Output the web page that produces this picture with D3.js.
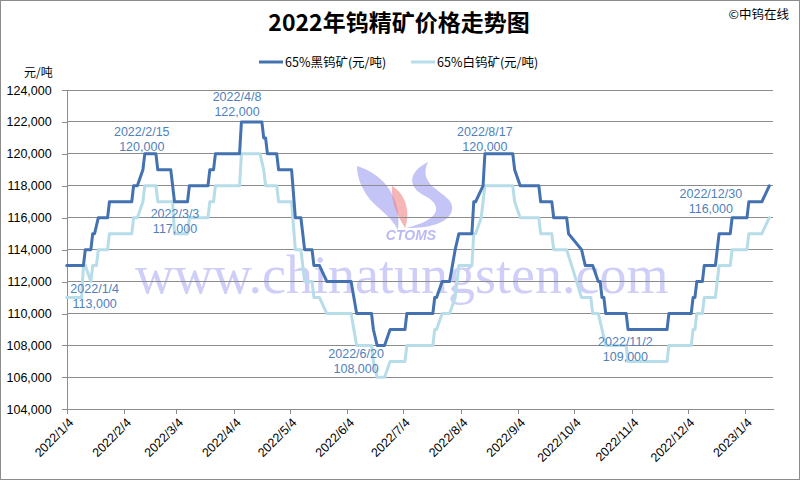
<!DOCTYPE html>
<html>
<head>
<meta charset="utf-8">
<script src="https://cdn.jsdelivr.net/npm/d3@7"></script>
<style>
html,body{margin:0;padding:0;background:#fff;}
svg{display:block;}
</style>
</head>
<body>
<svg id="chart" width="800" height="480"></svg>
<script>
// ---------------- DATA ----------------
const chartTitle = "2022年钨精矿价格走势图";
const sourceText = "©中钨在线";
const unitText = "元/吨";
const seriesNames = ["65%黑钨矿(元/吨)", "65%白钨矿(元/吨)"];

const blackDates = ["2022-01-04","2022-01-13","2022-01-14","2022-01-17","2022-01-18","2022-01-19","2022-01-21","2022-01-26","2022-01-27","2022-02-08","2022-02-09","2022-02-11","2022-02-14","2022-02-15","2022-02-21","2022-02-22","2022-03-01","2022-03-03","2022-03-10","2022-03-11","2022-03-21","2022-03-22","2022-03-24","2022-03-25","2022-04-07","2022-04-08","2022-04-19","2022-04-20","2022-04-21","2022-04-22","2022-04-27","2022-04-28","2022-05-05","2022-05-07","2022-05-10","2022-05-12","2022-05-16","2022-05-17","2022-05-20","2022-05-24","2022-06-06","2022-06-09","2022-06-17","2022-06-18","2022-06-20","2022-06-24","2022-06-27","2022-07-05","2022-07-06","2022-07-20","2022-07-21","2022-07-22","2022-07-25","2022-07-29","2022-08-01","2022-08-03","2022-08-10","2022-08-11","2022-08-12","2022-08-16","2022-08-17","2022-09-01","2022-09-02","2022-09-05","2022-09-15","2022-09-16","2022-09-22","2022-09-23","2022-09-30","2022-10-01","2022-10-08","2022-10-10","2022-10-14","2022-10-17","2022-10-18","2022-10-19","2022-10-20","2022-10-21","2022-11-01","2022-11-02","2022-11-23","2022-11-24","2022-12-06","2022-12-07","2022-12-08","2022-12-09","2022-12-12","2022-12-13","2022-12-19","2022-12-21","2022-12-27","2022-12-28","2023-01-05","2023-01-06","2023-01-13","2023-01-17"];
const blackValues = [113000,113000,114000,114000,115000,115000,116000,116000,117000,117000,118000,118000,119000,120000,120000,119000,119000,117000,117000,118000,118000,119000,119000,120000,120000,122000,122000,121000,121000,120000,120000,119000,119000,116000,116000,114000,114000,113000,113000,112000,112000,110000,110000,109000,108000,108000,109000,109000,110000,110000,111000,111000,112000,112000,114000,115000,115000,117000,117000,118000,120000,120000,119000,118000,118000,117000,117000,116000,116000,115000,114000,113000,113000,112000,112000,111000,111000,110000,110000,109000,109000,110000,110000,111000,111000,112000,112000,113000,113000,115000,115000,116000,116000,117000,117000,118000];

const whiteDates = ["2022-01-04","2022-01-12","2022-01-13","2022-01-14","2022-01-17","2022-01-18","2022-01-20","2022-01-21","2022-01-26","2022-01-27","2022-02-08","2022-02-09","2022-02-11","2022-02-14","2022-02-15","2022-02-21","2022-02-22","2022-03-02","2022-03-03","2022-03-10","2022-03-11","2022-03-21","2022-03-22","2022-03-24","2022-03-25","2022-04-07","2022-04-08","2022-04-18","2022-04-20","2022-04-21","2022-04-27","2022-04-28","2022-05-05","2022-05-07","2022-05-10","2022-05-12","2022-05-16","2022-05-17","2022-05-20","2022-05-24","2022-06-06","2022-06-09","2022-06-17","2022-06-18","2022-06-20","2022-06-24","2022-06-27","2022-07-05","2022-07-06","2022-07-20","2022-07-21","2022-07-22","2022-07-25","2022-07-29","2022-08-01","2022-08-03","2022-08-10","2022-08-11","2022-08-12","2022-08-15","2022-08-17","2022-09-01","2022-09-02","2022-09-05","2022-09-15","2022-09-16","2022-09-22","2022-09-23","2022-09-30","2022-10-08","2022-10-13","2022-10-14","2022-10-17","2022-10-21","2022-11-01","2022-11-02","2022-11-23","2022-11-24","2022-12-06","2022-12-07","2022-12-08","2022-12-09","2022-12-12","2022-12-13","2022-12-19","2022-12-21","2022-12-27","2022-12-28","2023-01-05","2023-01-06","2023-01-13","2023-01-17"];
const whiteValues = [111000,111000,113000,113000,112000,113000,113000,114000,114000,115000,115000,116000,116000,117000,118000,118000,117000,117000,115000,115000,116000,116000,117000,117000,118000,118000,120000,120000,119000,118000,118000,117000,117000,114000,114000,112000,112000,111000,111000,110000,110000,108000,108000,107000,106000,106000,107000,107000,108000,108000,109000,109000,110000,110000,111000,113000,113000,115000,115000,116000,118000,118000,117000,116000,116000,115000,115000,114000,114000,111000,111000,110000,110000,108000,108000,107000,107000,108000,108000,109000,109000,110000,110000,111000,111000,113000,113000,114000,114000,115000,115000,116000];

const xTickLabels = ["2022/1/4","2022/2/4","2022/3/4","2022/4/4","2022/5/4","2022/6/4","2022/7/4","2022/8/4","2022/9/4","2022/10/4","2022/11/4","2022/12/4","2023/1/4"];
const yTicks = [104000,106000,108000,110000,112000,114000,116000,118000,120000,122000,124000];
const xDomain = ["2022-01-04","2023-01-19"];

const noteDates  = ["2022-01-04","2022-02-15","2022-03-03","2022-04-08","2022-06-20","2022-08-17","2022-11-02","2022-12-30"];
const noteValues = [113000,120000,117000,122000,108000,120000,109000,116000];

// ---------------- LAYOUT ----------------
const parse = d3.timeParse("%Y-%m-%d");
const parseTick = d3.timeParse("%Y/%m/%d");
const plot = {left: 66.7, right: 773, top: 90, bottom: 409.3};

const svg = d3.select("#chart");
const x = d3.scaleTime().domain(xDomain.map(parse)).range([plot.left, plot.right]);
const y = d3.scaleLinear().domain([104000, 124000]).range([plot.bottom, plot.top]);

const numFont = "'Liberation Sans', Arial, 'Noto Sans CJK SC', sans-serif";
const cjkFont = "'Noto Sans CJK SC', 'Liberation Sans', sans-serif";
const gridColor = "#8c8c8c";
const darkColor = "#4472b0";
const lightColor = "#b7dde8";
const noteColor = "#4f7fbd";

const defs = svg.append("defs");
defs.append("filter").attr("id","soft").append("feGaussianBlur").attr("stdDeviation",0.7);

// background + border
svg.append("rect").attr("x",0.5).attr("y",0.5).attr("width",799).attr("height",479)
  .attr("fill","#fff").attr("stroke","#8c8c8c").attr("stroke-width",1);

// watermark (behind)
const wm = svg.append("g").attr("class","watermark").attr("filter","url(#soft)");
wm.append("text").attr("x",135).attr("y",293)
  .attr("font-family","'Liberation Serif','DejaVu Serif',serif").attr("font-size",54)
  .attr("fill","#8484ee").attr("fill-opacity",0.4).text("www.chinatungsten.com");
wm.append("path").attr("d","M357,166 C384,174 402,198 398,230 C390,214 373,206 366,194 C360,184 357,176 357,166 Z")
  .attr("fill","#8a8aee").attr("fill-opacity",0.5);
wm.append("path").attr("d","M392,186 C405,193 411,212 405,228 C398,216 391,204 392,186 Z")
  .attr("fill","#f07a7a").attr("fill-opacity",0.55);
wm.append("path").attr("d","M428,162 C408,172 407,187 425,196 C441,204 444,219 406,228 C446,229 459,212 449,200 C440,190 418,183 428,162 Z")
  .attr("fill","#8a8aee").attr("fill-opacity",0.5);
wm.append("text").attr("x",411).attr("y",240).attr("text-anchor","middle")
  .attr("font-family","'Liberation Sans',Arial,sans-serif").attr("font-size",14).attr("font-weight","bold")
  .attr("font-style","italic").attr("fill","#8a8aee").attr("fill-opacity",0.6).text("CTOMS");

// gridlines
svg.append("g").selectAll("line").data(yTicks).join("line")
  .attr("x1",plot.left).attr("x2",plot.right)
  .attr("y1",d=>y(d)).attr("y2",d=>y(d))
  .attr("stroke",gridColor).attr("stroke-width",1).attr("shape-rendering","crispEdges");

// y axis
const yAxis = svg.append("g").attr("transform",`translate(${plot.left},0)`)
  .call(d3.axisLeft(y).tickValues(yTicks).tickFormat(d3.format(",")).tickSize(5).tickPadding(10));
yAxis.select(".domain").attr("stroke",gridColor).attr("shape-rendering","crispEdges");
yAxis.selectAll(".tick line").attr("stroke",gridColor).attr("shape-rendering","crispEdges");
yAxis.selectAll("text").attr("font-family",numFont).attr("font-size",12.5).attr("fill","#000");

// x axis
const xTickDates = xTickLabels.map(parseTick);
const xAxis = svg.append("g").attr("transform",`translate(0,${plot.bottom})`)
  .call(d3.axisBottom(x).tickValues(xTickDates).tickFormat((d,i)=>xTickLabels[i]).tickSize(5).tickSizeOuter(0));
xAxis.select(".domain").attr("stroke",gridColor).attr("shape-rendering","crispEdges");
xAxis.selectAll(".tick line").attr("stroke",gridColor).attr("shape-rendering","crispEdges");
xAxis.selectAll("text")
  .attr("font-family",numFont).attr("font-size",12.5).attr("fill","#000")
  .attr("text-anchor","end").attr("dy","0.35em").attr("y",0)
  .attr("transform","translate(4,11) rotate(-45)");

// lines
const line = d3.line().x(d=>x(d.date)).y(d=>y(d.value));
const lightData = whiteDates.map((d,i)=>({date:parse(d), value:whiteValues[i]}));
const darkData = blackDates.map((d,i)=>({date:parse(d), value:blackValues[i]}));
svg.append("path").datum(lightData).attr("d",line).attr("fill","none")
  .attr("stroke",lightColor).attr("stroke-width",3).attr("stroke-linejoin","round").attr("stroke-linecap","round");
svg.append("path").datum(darkData).attr("d",line).attr("fill","none")
  .attr("stroke",darkColor).attr("stroke-width",3).attr("stroke-linejoin","round").attr("stroke-linecap","round");

// annotations (offset of the label's first baseline from its data point)
const noteOffsets = [[28,27],[-3,-18],[0.5,16],[-4.4,-21],[-21,12.4],[0,-18],[-2.6,16.6],[-25,-19.6]];
const notes = svg.append("g");
noteDates.forEach((d,i)=>{
  const px = x(parse(d)) + noteOffsets[i][0];
  const py = y(noteValues[i]) + noteOffsets[i][1];
  const [yy,mm,dd] = d.split("-").map(Number);
  const t = notes.append("text").attr("text-anchor","middle")
    .attr("font-family",numFont).attr("font-size",12.5).attr("fill",noteColor);
  t.append("tspan").attr("x",px).attr("y",py).text(`${yy}/${mm}/${dd}`);
  t.append("tspan").attr("x",px).attr("y",py+15).text(d3.format(",")(noteValues[i]));
});

// title
svg.append("text").attr("x",399).attr("y",31).attr("text-anchor","middle")
  .attr("font-family",cjkFont).attr("font-size",23).attr("font-weight","bold").attr("fill","#000")
  .text(chartTitle);
svg.append("text").attr("x",789).attr("y",19).attr("text-anchor","end")
  .attr("font-family",cjkFont).attr("font-size",12.5).attr("fill","#000").text(sourceText);
svg.append("text").attr("x",24).attr("y",77)
  .attr("font-family",cjkFont).attr("font-size",12).attr("fill","#000").text(unitText);

// legend
const legendX = [259, 411];
const legendColors = [darkColor, lightColor];
seriesNames.forEach((n,i)=>{
  svg.append("line").attr("x1",legendX[i]).attr("x2",legendX[i]+24).attr("y1",62).attr("y2",62)
    .attr("stroke",legendColors[i]).attr("stroke-width",3);
  svg.append("text").attr("x",legendX[i]+26).attr("y",66.5)
    .attr("font-family",cjkFont).attr("font-size",12.5).attr("fill","#000").text(n);
});
</script>
</body>
</html>
